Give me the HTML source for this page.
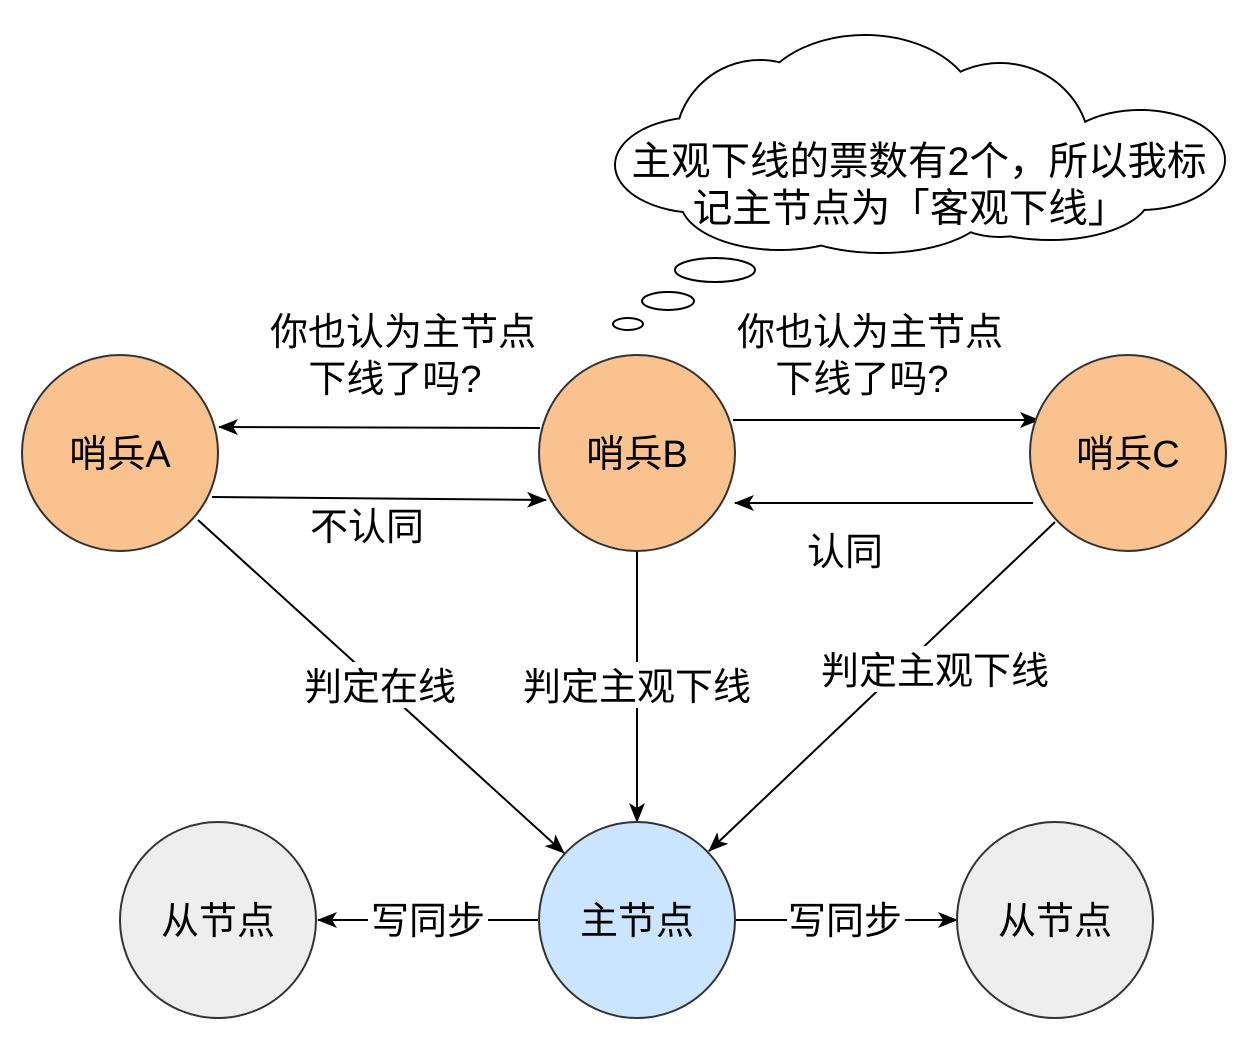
<!DOCTYPE html>
<html><head><meta charset="utf-8"><style>
html,body{margin:0;padding:0;background:#fff;}
svg{display:block;}
text{font-family:"Liberation Sans","Noto Sans CJK SC",sans-serif;fill:#000;}
</style></head><body>
<svg width="1255" height="1058" viewBox="0 0 1255 1058" xmlns="http://www.w3.org/2000/svg">
<defs>
<marker id="ar" viewBox="0 0 20 16" refX="19" refY="8" markerWidth="20" markerHeight="16" markerUnits="userSpaceOnUse" orient="auto">
<path d="M0,0 L20,8 L0,16 L5,8 Z" fill="#000"/></marker>
</defs>
<rect width="1255" height="1058" fill="#fff"/>
<!-- cloud -->
<g stroke="#000" stroke-width="2" fill="#fff">
<ellipse cx="865" cy="112" rx="112" ry="77"/>
<ellipse cx="760" cy="145" rx="85" ry="85"/>
<ellipse cx="1000" cy="150" rx="90" ry="87"/>
<ellipse cx="700" cy="165" rx="85" ry="48"/>
<ellipse cx="1140" cy="160" rx="85" ry="50"/>
<ellipse cx="780" cy="200" rx="100" ry="50"/>
<ellipse cx="880" cy="205" rx="110" ry="48"/>
<ellipse cx="1050" cy="195" rx="100" ry="45"/>
</g>
<g fill="#fff">
<ellipse cx="865" cy="112" rx="111" ry="76"/>
<ellipse cx="760" cy="145" rx="84" ry="84"/>
<ellipse cx="1000" cy="150" rx="89" ry="86"/>
<ellipse cx="700" cy="165" rx="84" ry="47"/>
<ellipse cx="1140" cy="160" rx="84" ry="49"/>
<ellipse cx="780" cy="200" rx="99" ry="49"/>
<ellipse cx="880" cy="205" rx="109" ry="47"/>
<ellipse cx="1050" cy="195" rx="99" ry="44"/>
</g>
<text x="919" y="175" font-size="39.5" text-anchor="middle">主观下线的票数有2个，所以我标</text>
<text x="910" y="222" font-size="39.5" text-anchor="middle">记主节点为「客观下线」</text>
<g stroke="#000" stroke-width="2" fill="#fff">
<ellipse cx="715" cy="270" rx="40" ry="12"/>
<ellipse cx="668" cy="301" rx="26" ry="9"/>
<ellipse cx="628" cy="324" rx="15" ry="6"/>
</g>
<!-- connectors -->
<g stroke="#000" stroke-width="2" fill="none">
<line x1="540" y1="428" x2="219" y2="427" marker-end="url(#ar)"/>
<line x1="212" y1="497" x2="546" y2="500" marker-end="url(#ar)"/>
<line x1="733" y1="420" x2="1039" y2="420" marker-end="url(#ar)"/>
<line x1="1033" y1="503" x2="735" y2="503" marker-end="url(#ar)"/>
<line x1="198" y1="520" x2="564" y2="853" marker-end="url(#ar)"/>
<line x1="637" y1="552" x2="637" y2="822" marker-end="url(#ar)"/>
<line x1="1055" y1="522" x2="709" y2="851" marker-end="url(#ar)"/>
<line x1="538" y1="920" x2="318" y2="920" marker-end="url(#ar)"/>
<line x1="735" y1="920" x2="957" y2="920" marker-end="url(#ar)"/>
</g>
<!-- nodes -->
<g stroke="#333" stroke-width="2">
<circle cx="120" cy="453" r="98" fill="#f9c28f"/>
<circle cx="637" cy="453" r="98" fill="#f9c28f"/>
<circle cx="1128" cy="453" r="98" fill="#f9c28f"/>
<circle cx="637" cy="920" r="98" fill="#cce5ff"/>
<circle cx="218" cy="920" r="98" fill="#eeeeee"/>
<circle cx="1055" cy="920" r="98" fill="#eeeeee"/>
</g>
<g font-size="38" text-anchor="middle">
<text x="120" y="467">哨兵A</text>
<text x="637" y="467">哨兵B</text>
<text x="1128" y="467">哨兵C</text>
<text x="637" y="934">主节点</text>
<text x="218" y="934">从节点</text>
<text x="1055" y="934">从节点</text>
</g>
<!-- labels -->
<g font-size="38" text-anchor="middle">
<text x="403" y="345">你也认为主节点</text>
<text x="395" y="392">下线了吗?</text>
<text x="870" y="345">你也认为主节点</text>
<text x="862" y="392">下线了吗?</text>
<text x="367" y="540">不认同</text>
<text x="845" y="565">认同</text>
</g>
<g fill="#fff">
<rect x="298" y="662" width="164" height="46"/>
<rect x="516" y="662" width="242" height="46"/>
<rect x="812" y="646" width="246" height="46"/>
<rect x="368" y="897" width="120" height="46"/>
<rect x="787" y="897" width="118" height="46"/>
</g>
<g font-size="38" text-anchor="middle">
<text x="380" y="700">判定在线</text>
<text x="637" y="700">判定主观下线</text>
<text x="935" y="684">判定主观下线</text>
<text x="428" y="934">写同步</text>
<text x="845" y="934">写同步</text>
</g>
</svg>
</body></html>
